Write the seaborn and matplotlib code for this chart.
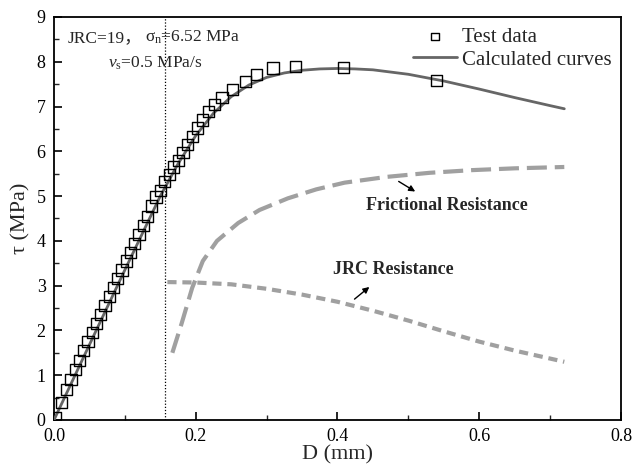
import matplotlib
matplotlib.use("Agg")
import matplotlib.pyplot as plt
import seaborn as sns
import pandas as pd

# Test data
test_D = [0.002, 0.011, 0.018, 0.024, 0.030, 0.036, 0.042, 0.048, 0.054, 0.060, 0.066, 0.072,
          0.078, 0.084, 0.090, 0.096, 0.102, 0.108, 0.114, 0.120, 0.126, 0.132, 0.138, 0.144,
          0.150, 0.156, 0.163, 0.169, 0.176, 0.182, 0.189, 0.196, 0.203, 0.210, 0.218, 0.227,
          0.237, 0.252, 0.270, 0.286, 0.309, 0.341, 0.408, 0.540]
test_tau = [0.05, 0.40, 0.68, 0.90, 1.12, 1.32, 1.55, 1.75, 1.95, 2.15, 2.35, 2.55,
            2.75, 2.95, 3.15, 3.35, 3.55, 3.75, 3.95, 4.15, 4.35, 4.55, 4.78, 4.98,
            5.12, 5.32, 5.48, 5.65, 5.80, 5.97, 6.15, 6.33, 6.52, 6.70, 6.88, 7.05,
            7.20, 7.38, 7.55, 7.72, 7.86, 7.90, 7.87, 7.58]

# Calculated curve
calc_D = [0.0, 0.05, 0.10, 0.15, 0.175, 0.20, 0.225, 0.25, 0.275, 0.30, 0.325, 0.35,
          0.375, 0.40, 0.425, 0.45, 0.50, 0.55, 0.60, 0.65, 0.70, 0.72]
calc_tau = [0.0, 1.68, 3.35, 5.0, 5.72, 6.35, 6.85, 7.22, 7.48, 7.65, 7.75, 7.81,
            7.84, 7.85, 7.84, 7.82, 7.72, 7.57, 7.39, 7.20, 7.02, 6.95]

# Frictional resistance
fric_D = [0.167, 0.180, 0.195, 0.210, 0.230, 0.260, 0.290, 0.330, 0.370, 0.410, 0.470, 0.530,
          0.590, 0.650, 0.720]
fric_tau = [1.50, 2.15, 2.95, 3.55, 4.00, 4.40, 4.69, 4.95, 5.15, 5.30, 5.43, 5.52,
            5.58, 5.62, 5.65]

# JRC resistance
jrc_D = [0.160, 0.200, 0.250, 0.300, 0.350, 0.400, 0.450, 0.500, 0.550, 0.600, 0.650, 0.720]
jrc_tau = [3.08, 3.07, 3.03, 2.93, 2.80, 2.64, 2.44, 2.22, 1.98, 1.75, 1.55, 1.30]

x_ticks = [0.0, 0.2, 0.4, 0.6, 0.8]
y_ticks = [0, 1, 2, 3, 4, 5, 6, 7, 8, 9]

sns.set_style("ticks")
plt.rcParams['font.family'] = ['Liberation Serif', 'DejaVu Serif']
plt.rcParams['mathtext.fontset'] = 'custom'
plt.rcParams['mathtext.rm'] = 'Liberation Serif'
plt.rcParams['mathtext.it'] = 'Liberation Serif:italic'

fig = plt.figure(figsize=(6.32, 4.69), dpi=100)
ax = fig.add_axes([0.0854, 0.1045, 0.8972, 0.8593])

df_test = pd.DataFrame({"D": test_D, "tau": test_tau})
df_calc = pd.DataFrame({"D": calc_D, "tau": calc_tau})
df_fric = pd.DataFrame({"D": fric_D, "tau": fric_tau})
df_jrc = pd.DataFrame({"D": jrc_D, "tau": jrc_tau})

sns.lineplot(data=df_calc, x="D", y="tau", ax=ax, color="#666666", lw=2.0,
             label="Calculated curves", sort=False, zorder=3)
sns.lineplot(data=df_fric, x="D", y="tau", ax=ax, color="#a0a0a0", lw=3.0,
             sort=False, zorder=2, dashes=False)
sns.lineplot(data=df_jrc, x="D", y="tau", ax=ax, color="#a0a0a0", lw=3.0,
             sort=False, zorder=2, dashes=False)
ax.lines[1].set_dashes((4.8, 1.9))
ax.lines[2].set_dashes((2.2, 1.4))
sns.scatterplot(data=df_test, x="D", y="tau", ax=ax, marker="s", s=64,
                facecolor="none", edgecolor="black", linewidth=1.0,
                label="Test data", zorder=4)

ax.axvline(0.157, color="black", lw=0.9, ls=(0, (1, 1.5)), zorder=1)

ax.set_xlim(0, 0.8)
ax.set_ylim(0, 9)
ax.set_xticks(x_ticks)
ax.set_xticklabels([f"{v:.1f}" for v in x_ticks])
ax.set_yticks(y_ticks)
ax.set_xticks([0.1, 0.3, 0.5, 0.7], minor=True)
ax.set_yticks([0.5 + i for i in range(9)], minor=True)
ax.tick_params(axis="both", which="major", direction="in", length=6, width=1.2,
               labelsize=13, top=False, right=False, colors="black", pad=6)
ax.tick_params(axis="both", which="minor", direction="in", length=3.5, width=1.0,
               top=False, right=False)
for sp in ax.spines.values():
    sp.set_linewidth(1.3)
    sp.set_color("black")

ax.set_xlabel("D (mm)", fontsize=16, labelpad=0)
ax.set_ylabel("τ (MPa)", fontsize=16, labelpad=4)

handles, labels = ax.get_legend_handles_labels()
order = [labels.index("Test data"), labels.index("Calculated curves")]
ax.legend([handles[i] for i in order], [labels[i] for i in order],
          loc="upper left", frameon=False, fontsize=15,
          bbox_to_anchor=(0.633, 0.974), borderpad=0, borderaxespad=0,
          handlelength=2.1, handletextpad=0.25,
          labelspacing=0.15, markerscale=0.7)

ax.text(0.0197, 8.44, "JRC=19，", fontsize=12.5, ha="left", va="baseline",
        family=['Liberation Serif', 'Noto Sans CJK SC'])
ax.text(0.128, 8.44, "$\\mathrm{\\sigma}_{\\mathrm{n}}$=6.52 MPa", fontsize=12.5,
        ha="left", va="baseline")
ax.text(0.076, 7.86, "$v_{\\mathrm{s}}$=0.5 MPa/s", fontsize=12.5, ha="left", va="baseline")

ax.text(0.554, 4.8, "Frictional Resistance", fontsize=13, fontweight="bold",
        ha="center", va="center")
ax.annotate("", xy=(0.513, 5.07), xytext=(0.483, 5.36),
            arrowprops=dict(arrowstyle="-|>", color="black", lw=1.0,
                            mutation_scale=9))
ax.text(0.479, 3.35, "JRC Resistance", fontsize=13, fontweight="bold",
        ha="center", va="center")
ax.annotate("", xy=(0.448, 3.01), xytext=(0.421, 2.66),
            arrowprops=dict(arrowstyle="-|>", color="black", lw=1.0,
                            mutation_scale=9))

fig.savefig("out.png", dpi=100)
